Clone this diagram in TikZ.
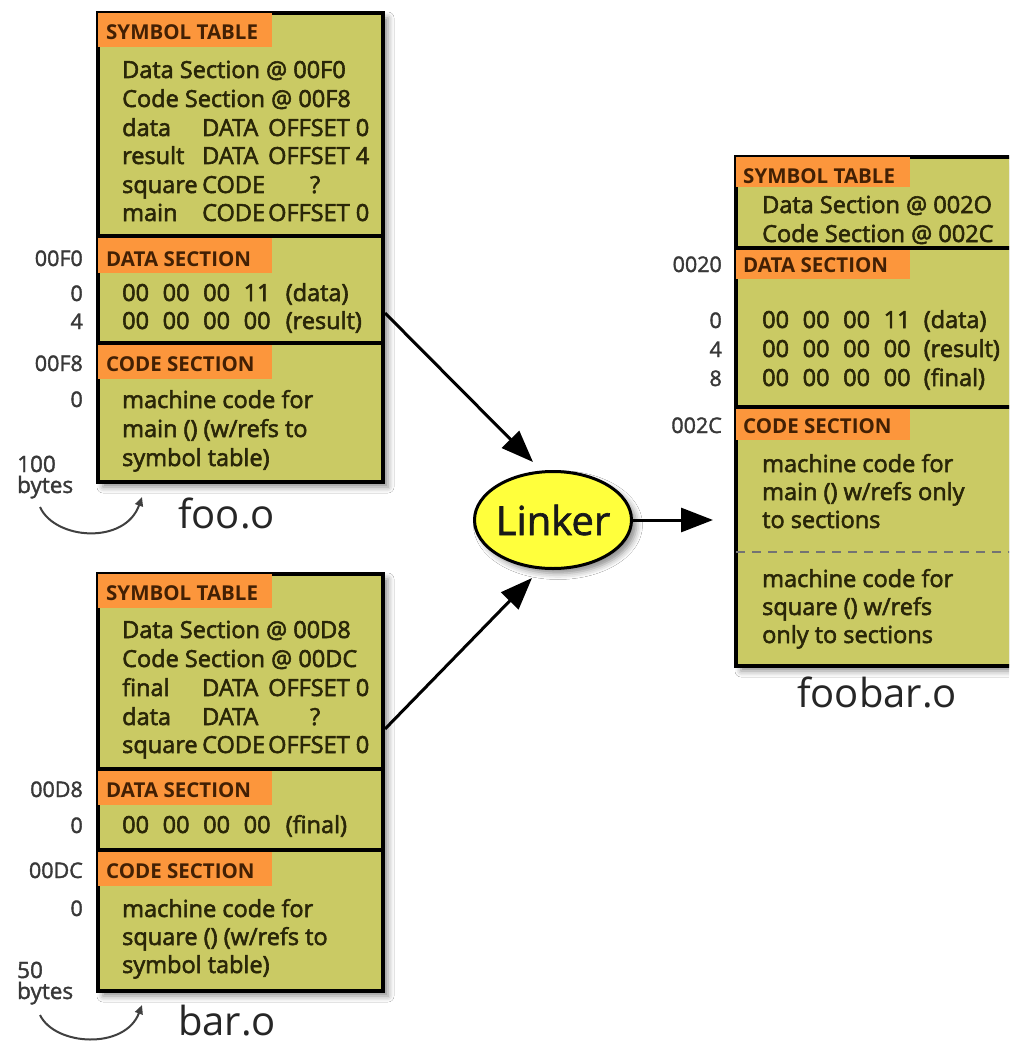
\documentclass[tikz,border=0pt]{standalone}
\usepackage{fontspec}
\setmainfont{Open Sans}
\newfontfamily\heavyface{Open Sans}[FakeBold=2.4]
\newfontfamily\midface{Open Sans}[FakeBold=1.6]
\usetikzlibrary{arrows.meta,shadows.blur,shapes.geometric}

\definecolor{objfill}{RGB}{202,202,100}
\definecolor{hdrfill}{RGB}{252,150,60}
\definecolor{inktext}{RGB}{42,38,8}
\definecolor{hdrink}{RGB}{66,32,4}
\definecolor{linkfill}{RGB}{255,255,60}

\newcommand\bodyfont{\heavyface\fontsize{23.5}{28}\selectfont}
\newcommand\hdrfont{\fontsize{20.5}{24}\selectfont\bfseries}
\newcommand\addrfont{\midface\fontsize{21.5}{24}\selectfont}
\newcommand\sizefont{\midface\fontsize{22.5}{24}\selectfont}
\newcommand\namefont{\fontsize{40}{46}\selectfont}
\newcommand\linkfont{\midface\fontsize{40}{46}\selectfont}

% one text line, placed on its baseline
\newcommand\txtat[4]{\node[body] (#1) at (#2,#3) {#4};}
% symbol table columns: name, kind, offset
\newcommand\symcols[3]{\makebox[80pt][l]{#1}\makebox[66pt][l]{#2}#3}
% four hex bytes and a comment; #6 is the width of the last byte column
\newcommand\hexcols[6]{\makebox[40.5pt][l]{#1}\makebox[40.5pt][l]{#2}\makebox[40.5pt][l]{#3}\makebox[#6][l]{#4}#5}

\tikzset{
  x=1pt, y=-1pt,
  objbox/.style={draw=black, line width=4pt, fill=objfill, inner sep=0pt,
    anchor=north west,
    blur shadow={shadow xshift=5pt, shadow yshift=-5pt,
      shadow blur radius=6pt, shadow opacity=45}},
  divider/.style={line width=4pt, draw=black},
  hdrbar/.style={fill=hdrfill},
  body/.style={font=\bodyfont, text=inktext, inner sep=0pt, anchor=base west},
  hdrtext/.style={font=\hdrfont, text=hdrink, inner sep=0pt, anchor=base west},
  addr/.style={font=\addrfont, text=black!78, inner sep=0pt, anchor=base east},
  sizetext/.style={font=\sizefont, text=black!78, inner sep=0pt, anchor=base west},
  objname/.style={font=\namefont, text=black!85, inner sep=0pt, anchor=base west},
  flow/.style={line width=3pt, -{Triangle[length=32pt,width=24pt]}},
  sizearrow/.style={line width=2pt, draw=black!75, -{Triangle[length=9pt,width=8pt]}},
  splitline/.style={line width=1.5pt, draw=black!55, dash pattern=on 9pt off 7pt},
}

\begin{document}
\begin{tikzpicture}
\useasboundingbox (0,0) rectangle (1009,1043);
\fill[white] (0,0) rectangle (1009,1043);
\clip (0,0) rectangle (1009,1043);

% ---------------- foo.o ----------------
\node[objbox, minimum width=285pt, minimum height=469pt] (foo) at (96,11) {};
\fill[hdrbar] (98,13) rectangle ++(174,34);
\fill[hdrbar] (98,238) rectangle ++(174,35);
\fill[hdrbar] (98,345) rectangle ++(174,34);
\draw[divider] (96,236) -- (381,236);
\draw[divider] (96,343) -- (381,343);

\node[hdrtext] (fooSymH) at (106,40) {SYMBOL TABLE};
\txtat{fooS1}{122}{78}{Data Section @ 00F0}
\txtat{fooS2}{122}{107}{Code Section @ 00F8}
\txtat{fooS3}{122}{136}{\symcols{data}{DATA}{OFFSET 0}}
\txtat{fooS4}{122}{164}{\symcols{result}{DATA}{OFFSET 4}}
\txtat{fooS5}{122}{193}{\symcols{square}{CODE}{\makebox[94pt]{?}}}
\txtat{fooS6}{122}{221}{\symcols{main}{CODE}{OFFSET 0}}

\node[hdrtext] (fooDatH) at (106,266) {DATA SECTION};
\node[addr] (fooDatA) at (83,266) {00F0};
\node[addr] (fooDatO1) at (83,301) {0};
\node[addr] (fooDatO2) at (83,329) {4};
\txtat{fooD1}{122}{301}{\hexcols{00}{00}{00}{11}{(data)}{42pt}}
\txtat{fooD2}{122}{329}{\hexcols{00}{00}{00}{00}{(result)}{42pt}}

\node[hdrtext] (fooCodH) at (106,371) {CODE SECTION};
\node[addr] (fooCodA) at (83,371) {00F8};
\node[addr] (fooCodO) at (83,407) {0};
\txtat{fooC1}{122}{408}{machine code for}
\txtat{fooC2}{122}{437}{main () (w/refs to}
\txtat{fooC3}{122}{466}{symbol table)}

\node[sizetext] (fooSz1) at (17,472) {100};
\node[sizetext] (fooSz2) at (17,493) {bytes};
\coordinate (fooSzFrom) at (40,507);
\coordinate (fooSzTip) at (142,497);
\draw[sizearrow] (fooSzFrom) .. controls (55,540) and (125,545) .. (fooSzTip);
\node[objname] (fooName) at (178,528) {foo.o};

% ---------------- bar.o ----------------
\node[objbox, minimum width=285pt, minimum height=417pt] (bar) at (96,572) {};
\fill[hdrbar] (98,574) rectangle ++(174,34);
\fill[hdrbar] (98,771) rectangle ++(174,34);
\fill[hdrbar] (98,852) rectangle ++(174,34);
\draw[divider] (96,769) -- (381,769);
\draw[divider] (96,850) -- (381,850);

\node[hdrtext] (barSymH) at (106,600) {SYMBOL TABLE};
\txtat{barS1}{122}{638}{Data Section @ 00D8}
\txtat{barS2}{122}{667}{Code Section @ 00DC}
\txtat{barS3}{122}{696}{\symcols{final}{DATA}{OFFSET 0}}
\txtat{barS4}{122}{725}{\symcols{data}{DATA}{\makebox[94pt]{?}}}
\txtat{barS5}{122}{753}{\symcols{square}{CODE}{OFFSET 0}}

\node[hdrtext] (barDatH) at (106,797) {DATA SECTION};
\node[addr] (barDatA) at (83,797) {00D8};
\node[addr] (barDatO) at (83,833) {0};
\txtat{barD1}{122}{833}{\hexcols{00}{00}{00}{00}{(final)}{42pt}}

\node[hdrtext] (barCodH) at (106,878) {CODE SECTION};
\node[addr] (barCodA) at (83,878) {00DC};
\node[addr] (barCodO) at (83,916) {0};
\txtat{barC1}{122}{917}{machine code for}
\txtat{barC2}{122}{945}{square () (w/refs to}
\txtat{barC3}{122}{973}{symbol table)}

\node[sizetext] (barSz1) at (17,978) {50};
\node[sizetext] (barSz2) at (17,999) {bytes};
\coordinate (barSzFrom) at (40,1015);
\coordinate (barSzTip) at (142,1005);
\draw[sizearrow] (barSzFrom) .. controls (55,1046) and (125,1050) .. (barSzTip);
\node[objname] (barName) at (178,1035) {bar.o};

% ---------------- linker ----------------
\node[ellipse, draw=black, line width=3pt, fill=linkfill, inner sep=0pt,
  minimum width=157pt, minimum height=97pt, font=\linkfont, text=black!90,
  blur shadow={shadow xshift=5pt, shadow yshift=-5pt, shadow blur radius=6pt, shadow opacity=45}]
  (linker) at (553,520) {\makebox[0pt]{Linker}};

% ---------------- foobar.o ----------------
\node[objbox, minimum width=300pt, minimum height=509pt] (foobar) at (734,155) {};
\fill[hdrbar] (736,157) rectangle ++(174,30);
\fill[hdrbar] (736,250) rectangle ++(174,29);
\fill[hdrbar] (736,409) rectangle ++(174,31);
\draw[divider] (734,248) -- (1034,248);
\draw[divider] (734,407) -- (1034,407);
\draw[splitline] (736,552) -- (1034,552);

\node[hdrtext] (fbSymH) at (743,183) {SYMBOL TABLE};
\txtat{fbS1}{762}{213}{Data Section @ 002O}
\txtat{fbS2}{762}{242}{Code Section @ 002C}

\node[hdrtext] (fbDatH) at (743,272) {DATA SECTION};
\node[addr] (fbDatA) at (722,272) {0020};
\node[addr] (fbDatO1) at (722,328) {0};
\node[addr] (fbDatO2) at (722,357) {4};
\node[addr] (fbDatO3) at (722,386) {8};
\txtat{fbD1}{762}{328}{\hexcols{00}{00}{00}{11}{(data)}{40pt}}
\txtat{fbD2}{762}{357}{\hexcols{00}{00}{00}{00}{(result)}{40pt}}
\txtat{fbD3}{762}{386}{\hexcols{00}{00}{00}{00}{(final)}{40pt}}

\node[hdrtext] (fbCodH) at (743,433) {CODE SECTION};
\node[addr] (fbCodA) at (722,433) {002C};
\txtat{fbC1}{762}{472}{machine code for}
\txtat{fbC2}{762}{500}{main () w/refs only}
\txtat{fbC3}{762}{528}{to sections}
\txtat{fbC4}{762}{587}{machine code for}
\txtat{fbC5}{762}{615}{square () w/refs}
\txtat{fbC6}{762}{643}{only to sections}

\node[objname] (fbName) at (797,707) {foobar.o};

% ---------------- connectors ----------------
\coordinate (fooOut) at (foo.east |- 0,313);
\coordinate (barOut) at (bar.east |- 0,729);
\coordinate (linkIn1) at (533,462);
\coordinate (linkIn2) at (532,578);
\coordinate (fbIn) at (713,520);
\draw[flow] (fooOut) -- (linkIn1);
\draw[flow] (barOut) -- (linkIn2);
\draw[flow] (linker.east) -- (fbIn);
\end{tikzpicture}
\end{document}
